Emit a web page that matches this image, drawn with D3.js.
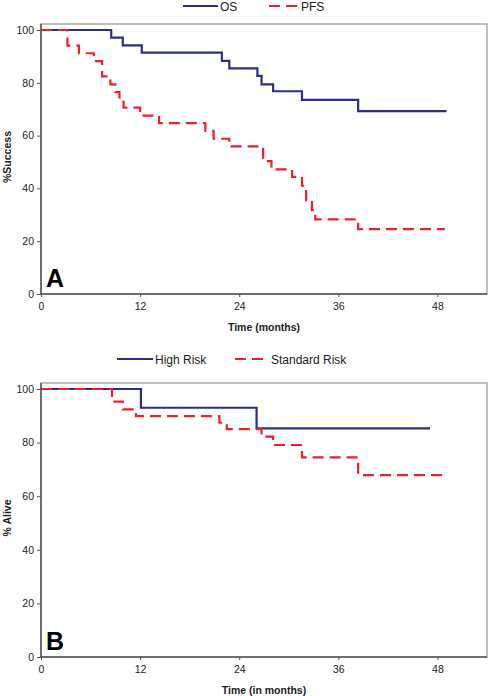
<!DOCTYPE html>
<html><head><meta charset="utf-8">
<script src="https://cdn.jsdelivr.net/npm/d3@7"></script>
<style>
html,body{margin:0;padding:0;background:#fff;}
svg{display:block;font-family:"Liberation Sans",Arial,sans-serif;}
</style></head>
<body>
<svg id="chart" width="488" height="696"></svg>
<script>
// Panel A data
const osTime   = [0, 8.5, 9.9, 12.2, 21.9, 22.8, 26.2, 26.7, 28.1, 31.6, 38.4, 49.1];
const osValue  = [100, 97.1, 94.2, 91.4, 88.3, 85.5, 82.6, 79.4, 76.8, 73.5, 69.3, 69.3];
const pfsTime  = [0, 3.2, 4.6, 6.4, 7.4, 8.4, 9.0, 9.5, 10.0, 12.0, 14.3, 19.9, 20.9, 22.8, 26.9, 27.9, 30.4, 31.6, 32.1, 32.8, 33.2, 38.4, 48.9];
const pfsValue = [100, 94.1, 91.2, 88.2, 82.4, 79.4, 76.5, 73.5, 70.6, 67.6, 64.7, 61.8, 58.8, 55.9, 50.3, 47.2, 44.4, 41.0, 35.5, 31.8, 28.3, 24.6, 24.6];
// Panel B data
const highTime  = [0, 12.1, 26.1, 47.1];
const highValue = [100, 93.0, 85.3, 85.3];
const stdTime   = [0, 8.6, 9.9, 11.5, 21.6, 22.5, 26.7, 28.1, 31.6, 38.4, 48.9];
const stdValue  = [100, 95.3, 92.4, 89.9, 87.4, 85.0, 82.2, 79.1, 74.5, 67.9, 67.9];
// Axis ticks
const xTicks = [0, 12, 24, 36, 48];
const yTicks = [0, 20, 40, 60, 80, 100];

const NAVY = "#2d2e83", RED = "#e8212e";
const svg = d3.select("#chart");

function panel(o) {
  const x = d3.scaleLinear().domain([0, 54]).range([41, 487]);
  const y = d3.scaleLinear().domain([0, 100]).range([o.y0, o.y100]);
  const g = svg.append("g");
  // frame (top/right light gray)
  g.append("rect").attr("x", 41).attr("y", o.top).attr("width", 446).attr("height", o.y0 - o.top)
    .attr("fill", "none").attr("stroke", "#a8a8a8").attr("stroke-width", 1.5);
  // axes
  const ya = g.append("g").attr("transform", "translate(41,0)")
    .call(d3.axisLeft(y).tickValues(yTicks).tickSize(4).tickPadding(3));
  const xa = g.append("g").attr("transform", `translate(0,${o.y0})`)
    .call(d3.axisBottom(x).tickValues(xTicks).tickSize(3).tickPadding(6));
  [ya, xa].forEach(a => {
    a.select(".domain").attr("stroke", "#555").attr("stroke-width", 1.5);
    a.selectAll(".tick line").attr("stroke", "#555");
    a.selectAll(".tick text").attr("fill", "#222").style("font-size", "10.5px").style("font-family", "Liberation Sans, Arial, sans-serif");
  });
  xa.select(".domain").attr("d", `M41,0H487`);
  ya.select(".domain").attr("d", `M0,${o.y0}V${o.top}`);
  // titles
  g.append("text").attr("x", 264).attr("y", o.xTitleY).attr("text-anchor", "middle")
    .attr("font-weight", "bold").attr("font-size", "10.5px").attr("fill", "#222").text(o.xTitle);
  g.append("text").attr("transform", `translate(11,${o.yTitleC}) rotate(-90)`).attr("text-anchor", "middle")
    .attr("font-weight", "bold").attr("font-size", "10.5px").attr("fill", "#222").text(o.yTitle);
  g.append("text").attr("x", 46).attr("y", o.y0 - 7).attr("font-weight", "bold").attr("font-size", "25px")
    .attr("fill", "#000").text(o.letter);
  // series
  const line = d3.line().x(d => x(d[0])).y(d => y(d[1])).curve(d3.curveStepAfter);
  o.series.forEach(s => {
    const pts = s.t.map((t, i) => [t, s.v[i]]);
    g.append("path").datum(pts).attr("d", line).attr("fill", "none")
      .attr("stroke", s.color).attr("stroke-width", 2.2)
      .attr("stroke-dasharray", s.dash ? "11,6" : null);
  });
  // legend
  o.series.forEach(s => {
    g.append("line").attr("x1", s.lx).attr("x2", s.lx2).attr("y1", o.legY).attr("y2", o.legY)
      .attr("stroke", s.color).attr("stroke-width", 2.2).attr("stroke-dasharray", s.dash ? "11,6" : null);
    g.append("text").attr("x", s.lx2 + 2).attr("y", o.legY + 4.5).attr("font-size", "12px").attr("fill", "#222").text(s.name);
  });
}

panel({
  top: 24, y0: 294, y100: 30, xTitle: "Time (months)", xTitleY: 331, yTitle: "%Success", yTitleC: 157,
  letter: "A", legY: 6,
  series: [
    {name: "OS", t: osTime, v: osValue, color: NAVY, dash: false, lx: 183, lx2: 218},
    {name: "PFS", t: pfsTime, v: pfsValue, color: RED, dash: true, lx: 269, lx2: 299}
  ]
});
panel({
  top: 383, y0: 657, y100: 389, xTitle: "Time (in months)", xTitleY: 694, yTitle: "% Alive", yTitleC: 518,
  letter: "B", legY: 359,
  series: [
    {name: "High Risk", t: highTime, v: highValue, color: NAVY, dash: false, lx: 117, lx2: 153},
    {name: "Standard Risk", t: stdTime, v: stdValue, color: RED, dash: true, lx: 235, lx2: 269}
  ]
});
</script>
</body></html>
